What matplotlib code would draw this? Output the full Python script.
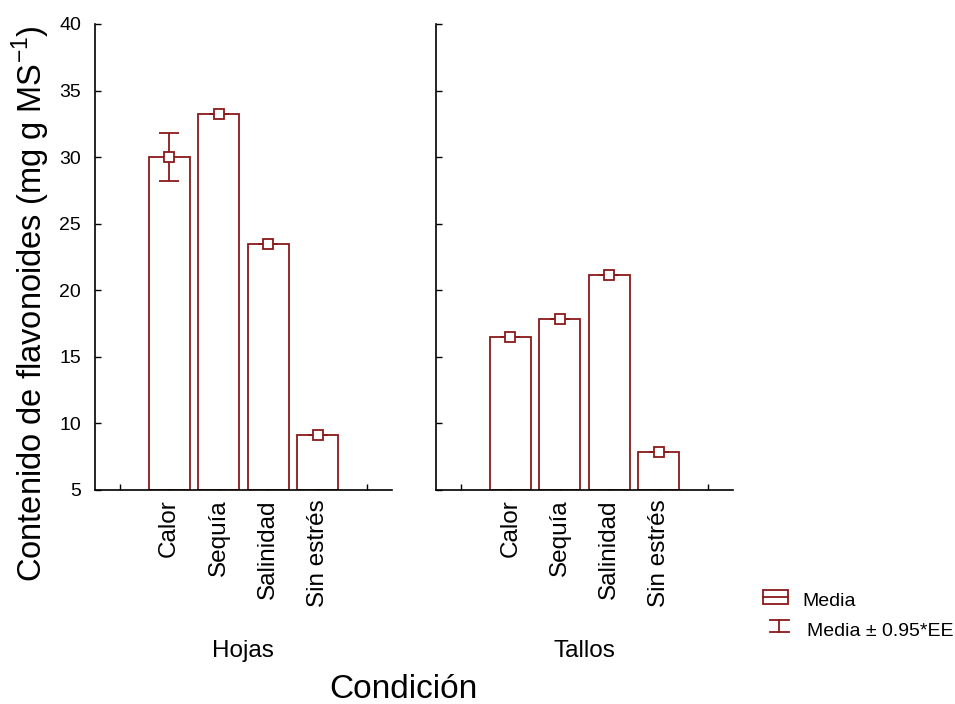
import matplotlib
matplotlib.use("Agg")
import matplotlib.pyplot as plt
from matplotlib.patches import Rectangle
from matplotlib.lines import Line2D

plt.rcParams['font.family'] = ['Liberation Sans', 'DejaVu Sans']
plt.rcParams['mathtext.fontset'] = 'custom'
plt.rcParams['mathtext.rm'] = 'Liberation Sans'

categories = ["Calor", "Sequía", "Salinidad", "Sin estrés"]
groups = ["Hojas", "Tallos"]
hojas_mean = [30.0, 33.25, 23.5, 9.1]
hojas_err = [1.8, 0.0, 0.0, 0.0]
tallos_mean = [16.5, 17.85, 21.15, 7.85]
tallos_err = [0.0, 0.0, 0.0, 0.0]
yticks = [5, 10, 15, 20, 25, 30, 35, 40]

red = '#8b1a1a'
W, H = 955, 704
fig = plt.figure(figsize=(W / 100, H / 100), dpi=100)

def fx(px):
    return px / W

def fy(py):
    return 1 - py / H

ax_w = fx(297)
ax_b = fy(490)
ax_h = fy(24) - fy(490)
axes = [fig.add_axes([fx(95), ax_b, ax_w, ax_h]),
        fig.add_axes([fx(436), ax_b, ax_w, ax_h])]

data = [(hojas_mean, hojas_err), (tallos_mean, tallos_err)]
for i, (ax, (m, e)) in enumerate(zip(axes, data)):
    pos = list(range(1, len(categories) + 1))
    ax.bar(pos, [v - 5 for v in m], bottom=5, width=0.83, facecolor='white',
           edgecolor=red, linewidth=1.3, zorder=2)
    ax.errorbar(pos, m, yerr=e, fmt='none', ecolor=red,
                capsize=7, elinewidth=1.3, capthick=1.3, zorder=3)
    ax.plot(pos, m, 's', color=red, markerfacecolor='white',
            markeredgecolor=red, markersize=7, markeredgewidth=1.3, zorder=4)
    ax.set_xlim(-0.5, 5.5)
    ax.set_ylim(5, 40)
    ax.set_xticks(range(0, 6))
    ax.set_xticklabels([''] + categories + [''], rotation=90, fontsize=17.5)
    ax.set_yticks(yticks)
    ax.tick_params(direction='in', length=4, width=1, colors='black', pad=7)
    ax.tick_params(axis='y', labelsize=14, pad=10)
    for s in ['top', 'right']:
        ax.spines[s].set_visible(False)
    for s in ['left', 'bottom']:
        ax.spines[s].set_linewidth(1.2)
    if i == 1:
        ax.set_yticklabels([])
    fig.text(fx(95 + 341 * i + 148), fy(651), groups[i], ha='center',
             va='center', fontsize=17.5)

fig.text(fx(31), fy(304), 'Contenido de flavonoides (mg g MS$^{-1}$)',
         rotation=90, ha='center', va='center', fontsize=23.5)
fig.text(fx(403), fy(690), 'Condición', ha='center', va='center', fontsize=24)

# Legend
lx0, lx1 = fx(763), fx(788)
fig.add_artist(Rectangle((lx0, fy(604)), lx1 - lx0, fy(590) - fy(604),
                         transform=fig.transFigure, facecolor='white',
                         edgecolor=red, linewidth=1.3))
fig.add_artist(Line2D([lx0, lx1], [fy(597), fy(597)], transform=fig.transFigure,
                      color=red, linewidth=1.3))
fig.text(fx(802), fy(602), 'Media', ha='left', va='center', fontsize=14)
ex = fx(779)
fig.add_artist(Line2D([fx(770), fx(789)], [fy(620), fy(620)],
                      transform=fig.transFigure, color=red, linewidth=1.3))
fig.add_artist(Line2D([fx(770), fx(789)], [fy(632), fy(632)],
                      transform=fig.transFigure, color=red, linewidth=1.3))
fig.add_artist(Line2D([ex, ex], [fy(620), fy(632)],
                      transform=fig.transFigure, color=red, linewidth=1.3))
fig.text(fx(807), fy(632), 'Media ± 0.95*EE', ha='left', va='center', fontsize=14)

fig.savefig('out.png', dpi=100)
